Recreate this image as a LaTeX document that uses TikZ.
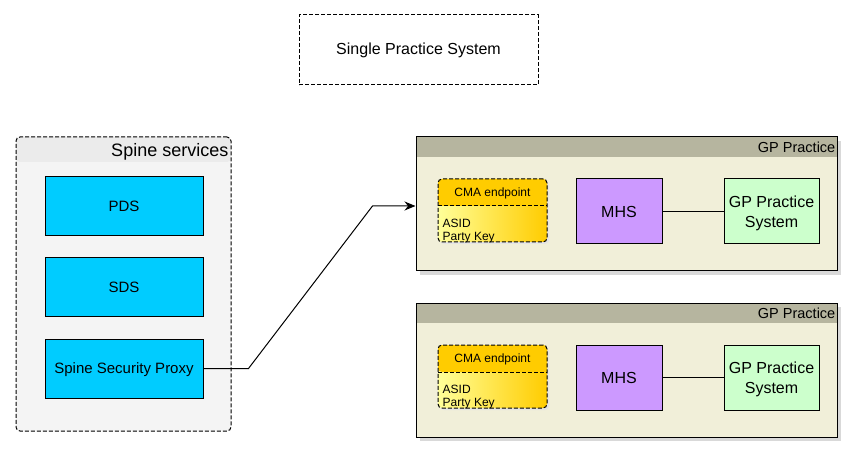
\documentclass[tikz,border=0pt]{standalone}
\usepackage{fontspec}
\setmainfont{Liberation Sans}
\usetikzlibrary{arrows.meta,positioning}
\definecolor{spinefill}{HTML}{F4F4F4}
\definecolor{spinehead}{HTML}{EBEBEB}
\definecolor{svcblue}{HTML}{00CCFF}
\definecolor{gpfill}{HTML}{F1EFD9}
\definecolor{gphead}{HTML}{B6B59F}
\definecolor{cmaorange}{HTML}{FFCC00}
\definecolor{cmalight}{HTML}{FFFF99}
\definecolor{mhspurple}{HTML}{CC99FF}
\definecolor{gpsgreen}{HTML}{CCFFCC}
\tikzset{
  dashbox/.style={draw,line width=1pt,dash pattern=on 4pt off 2pt},
  svcbox/.style={rectangle,draw,line width=1pt,fill=svcblue,minimum width=158pt,minimum height=59pt,text depth=0pt,font=\fontsize{15}{17}\selectfont},
  spinebox/.style={dashbox,rectangle,rounded corners=4pt,fill=spinefill,minimum width=215pt,minimum height=294pt,
    path picture={\fill[spinehead] (path picture bounding box.north west) rectangle ([yshift=-25pt]path picture bounding box.north east);}},
  gpbox/.style={rectangle,draw,line width=1pt,fill=gpfill,minimum width=421pt,minimum height=134pt,
    path picture={\fill[gphead] (path picture bounding box.north west) rectangle ([yshift=-20pt]path picture bounding box.north east);}},
  gpshadow/.style={fill=black!15,draw=none,minimum width=421pt,minimum height=134pt},
  cmabox/.style={dashbox,rectangle,rounded corners=4pt,minimum width=109pt,minimum height=63pt,
    path picture={
      \shade[left color=cmalight,right color=cmaorange]
        (path picture bounding box.south west) rectangle (path picture bounding box.north east);
      \fill[cmaorange] (path picture bounding box.north west) rectangle ([yshift=-27pt]path picture bounding box.north east);
      \draw[line width=1pt,dash pattern=on 4pt off 2pt] ([yshift=-27pt]path picture bounding box.north west) -- ([yshift=-27pt]path picture bounding box.north east);}},
  mhsbox/.style={rectangle,draw,line width=1pt,fill=mhspurple,minimum width=86pt,minimum height=65pt,text depth=0pt,font=\fontsize{16}{18}\selectfont},
  gpsbox/.style={rectangle,draw,line width=1pt,fill=gpsgreen,minimum width=95pt,minimum height=65pt,align=center,text depth=0pt,font=\fontsize{16}{20}\selectfont},
  small/.style={font=\fontsize{12}{14}\selectfont,inner sep=0pt}
}
\begin{document}
\begin{tikzpicture}[x=1pt,y=-1pt]
  \useasboundingbox[fill=white] (0,0) rectangle (857,457);
  % top label
  \node[dashbox,rectangle,minimum width=239pt,minimum height=70pt,font=\fontsize{16}{18}\selectfont] (single) at (418.5,50) {Single Practice System};

  % spine services
  \node[spinebox] (spine) at (123.5,284) {};
  \node[anchor=north east,inner sep=0pt,font=\fontsize{18}{20}\selectfont] (spinelbl) at ([xshift=-3pt,yshift=-6.5pt]spine.north east) {Spine services};
  \node[svcbox] (pds) at (124,206.5) {PDS};
  \node[svcbox] (sds) at (124,287) {SDS};
  \node[svcbox] (proxy) at (124,368.5) {Spine Security Proxy};

  % gp practices
  \foreach \i/\y in {1/204,2/370}{
    \node[gpshadow] (gpsh\i) at (630,\y+4) {};
    \node[gpbox] (gp\i) at (626.5,\y) {};
    \node[anchor=north east,inner sep=0pt,font=\fontsize{14.5}{16}\selectfont] (gplbl\i) at ([xshift=-2pt,yshift=-5pt]gp\i.north east) {GP Practice};
    \node[fill=black!10,rounded corners=4pt,minimum width=109pt,minimum height=63pt] (cmash\i) at (494.5,\y+8.5) {};
    \node[cmabox] (cma\i) at (492.5,\y+6.5) {};
    \node[small] (cmat\i) at ([yshift=-14.5pt]cma\i.north) {CMA endpoint};
    \node[small,anchor=west] (asid\i) at ([xshift=5pt,yshift=-45pt]cma\i.north west) {ASID};
    \node[small,anchor=west] (pkey\i) at ([xshift=5pt,yshift=-59pt]cma\i.north west) {Party Key};
    \node[mhsbox] (mhs\i) at (619,\y+7.5) {MHS};
    \node[gpsbox] (gps\i) at (771.5,\y+7.5) {GP Practice\\System};
    \draw[line width=1pt] (mhs\i) -- (gps\i);
  }

  % connector
  \draw[line width=1pt,-{Stealth[length=11pt,width=9pt]}] (proxy.east) -- ++(45,0) -- ([xshift=-43pt,yshift=-2pt]gp1.west) -- ([yshift=-2pt]gp1.west);
\end{tikzpicture}
\end{document}
